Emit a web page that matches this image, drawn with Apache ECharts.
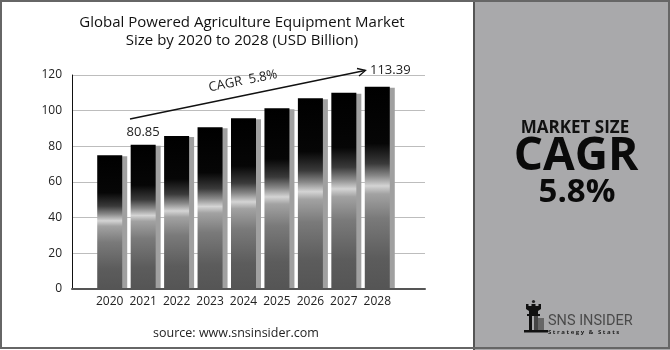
<!DOCTYPE html>
<html>
<head>
<meta charset="utf-8">
<style>html,body{margin:0;padding:0;background:#fff}#c{width:670px;height:350px}</style>
<script src="https://cdn.jsdelivr.net/npm/echarts@6/dist/echarts.min.js"></script>
</head>
<body>
<div id="c"></div>
<script>
const categories = ['2020','2021','2022','2023','2024','2025','2026','2027','2028'];
const values = [75.0, 80.85, 85.8, 90.7, 95.8, 101.3, 107.0, 110.1, 113.39];
const yTicks = {min: 0, max: 120, interval: 20};
const titleText = 'Global Powered Agriculture Equipment Market\nSize by 2020 to 2028 (USD Billion)';
const cagrText = 'CAGR  5.8%';
const sourceText = 'source: www.snsinsider.com';

const chart = echarts.init(document.getElementById('c'), null, {renderer: 'canvas'});
const F = '"Open Sans", sans-serif';
const barGrad = new echarts.graphic.LinearGradient(0, 0, 0, 1, [
  {offset: 0, color: '#000'},
  {offset: 0.28, color: '#060606'},
  {offset: 0.38, color: '#3a3a3a'},
  {offset: 0.44, color: '#888'},
  {offset: 0.49, color: '#d4d4d4'},
  {offset: 0.53, color: '#a2a2a2'},
  {offset: 0.65, color: '#7a7a7a'},
  {offset: 0.85, color: '#5c5c5c'},
  {offset: 1, color: '#555'}
]);

const data = values.map((v, i) => {
  const item = {value: v};
  if (categories[i] === '2021') item.label = {show: true, position: 'top', distance: 6};
  if (categories[i] === '2028') item.label = {show: true, position: 'top', distance: 5, offset: [13, -5]};
  return item;
});

chart.setOption({
  backgroundColor: '#fff',
  animation: false,
  title: {
    text: titleText, left: 237, top: 9, textAlign: 'center',
    textStyle: {fontFamily: F, fontSize: 15, fontWeight: 'normal', color: '#111', lineHeight: 18}
  },
  grid: [
    {left: 72, right: 245, top: 75, bottom: 61},
    {left: 93, right: 276, top: 75, bottom: 61}
  ],
  xAxis: [
    {gridIndex: 0, type: 'value', min: 0, max: 1, axisLine: {show: true, lineStyle: {color: '#555', width: 2}},
     axisTick: {show: false}, axisLabel: {show: false}, splitLine: {show: false}, z: 5},
    {gridIndex: 1, type: 'category', data: categories, axisLine: {show: false}, axisTick: {show: false},
     axisLabel: {fontFamily: F, fontSize: 12, color: '#222', margin: 7, interval: 0}}
  ],
  yAxis: [
    {gridIndex: 0, type: 'value', min: yTicks.min, max: yTicks.max, interval: yTicks.interval,
     axisLine: {show: true, lineStyle: {color: '#111', width: 1}}, axisTick: {show: false},
     axisLabel: {fontFamily: F, fontSize: 12, color: '#222', margin: 10},
     splitLine: {lineStyle: {color: '#bdbdbd', width: 1}}},
    {gridIndex: 1, type: 'value', min: yTicks.min, max: yTicks.max, interval: yTicks.interval, show: false}
  ],
  series: [{
    type: 'bar', xAxisIndex: 1, yAxisIndex: 1, data: data, barWidth: 25,
    itemStyle: {color: barGrad, shadowColor: '#a0a0a0', shadowOffsetX: 5, shadowOffsetY: 1, shadowBlur: 0},
    label: {show: false, fontFamily: F, fontSize: 13, color: '#222'},
    z: 3
  }],
  graphic: [
    {type: 'rect', shape: {x: 474, y: 0, width: 196, height: 350}, style: {fill: '#a9a9ab'}, z: 0},
    {type: 'line', shape: {x1: 474, y1: 0, x2: 474, y2: 350}, style: {stroke: '#555', lineWidth: 2}, z: 10},
    {type: 'rect', shape: {x: 1, y: 1, width: 668, height: 347}, style: {fill: null, stroke: '#666', lineWidth: 2}, z: 10},
    {type: 'text', x: 575, y: 128, style: {text: 'MARKET SIZE', fontFamily: F, fontSize: 17, fontWeight: 700, fill: '#111', align: 'center', verticalAlign: 'middle'}, z: 10},
    {type: 'text', x: 576, y: 157, style: {text: 'CAGR', fontFamily: F, fontSize: 46, fontWeight: 700, fill: '#0a0a0a', align: 'center', verticalAlign: 'middle'}, z: 10},
    {type: 'text', x: 577, y: 193, style: {text: '5.8%', fontFamily: F, fontSize: 33, fontWeight: 700, fill: '#0a0a0a', align: 'center', verticalAlign: 'middle'}, z: 10},
    {type: 'line', shape: {x1: 130, y1: 119, x2: 365, y2: 70.5}, style: {stroke: '#111', lineWidth: 1.3}, z: 10},
    {type: 'polyline', shape: {points: [[357, 68.5], [365.5, 70.4], [359, 76]]}, style: {stroke: '#111', lineWidth: 1.3, fill: null}, z: 10},
    {type: 'text', x: 243, y: 81, rotation: 0.195, style: {text: cagrText, fontFamily: F, fontSize: 13, fill: '#222', align: 'center', verticalAlign: 'middle'}, z: 10},
    {type: 'text', x: 236, y: 333, style: {text: sourceText, fontFamily: F, fontSize: 12.5, fill: '#222', align: 'center', verticalAlign: 'middle'}, z: 10},
    // logo
    {type: 'circle', shape: {cx: 533.5, cy: 301.5, r: 1.6}, style: {fill: '#222'}, z: 10},
    {type: 'polygon', shape: {points: [[526,304],[528.5,304],[528.5,306],[531.5,306],[531.5,304],[535.5,304],[535.5,306],[538.5,306],[538.5,304],[541,304],[541,309],[538,311],[538,314],[540,314],[540,316],[527,316],[527,314],[529,314],[529,311],[526,309]]}, style: {fill: '#111'}, z: 10},
    {type: 'polygon', shape: {points: [[529,316],[532,316],[532,330],[529,330]]}, style: {fill: '#111'}, z: 10},
    {type: 'polygon', shape: {points: [[534,316],[538,316],[538,330],[534,330]]}, style: {fill: '#444'}, z: 10},
    {type: 'polygon', shape: {points: [[538,318],[544,318],[544,330],[538,330]]}, style: {fill: '#666'}, z: 10},
    {type: 'rect', shape: {x: 524, y: 330, width: 24, height: 2.5}, style: {fill: '#111'}, z: 10},
    {type: 'text', x: 548, y: 321, style: {text: 'SNS INSIDER', fontFamily: 'Roboto, sans-serif', fontSize: 14.5, fill: '#4a4a4a', align: 'left', verticalAlign: 'middle'}, z: 10},
    {type: 'text', x: 548, y: 332, style: {text: 'S t r a t e g y   &   S t a t s', fontFamily: F, fontSize: 6, fontWeight: 'bold', fill: '#222', align: 'left', verticalAlign: 'middle'}, z: 10}
  ]
});
</script>
</body>
</html>
